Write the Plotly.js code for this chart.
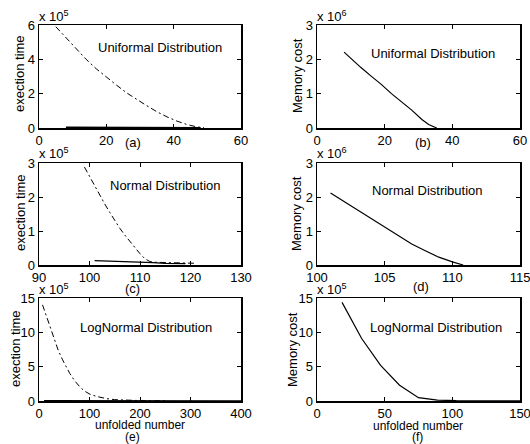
<!DOCTYPE html>
<html>
<head>
<meta charset="utf-8">
<script src="https://cdn.plot.ly/plotly-3.0.1.min.js"></script>
<style>html,body{margin:0;padding:0;background:#fff;}#chart{width:530px;height:444px;}</style>
</head>
<body>
<div id="chart"></div>
<script>
// ---- data (y values in units of the panel's exponent, e.g. x10^5) ----
// (a) Uniformal Distribution, exection time (x10^5)
const aDashX = [5, 8, 11, 14, 17, 20, 23, 26, 29, 32, 35, 38, 41, 44, 47, 49];
const aDashY = [5.9, 5.25, 4.6, 4.0, 3.45, 2.95, 2.5, 2.05, 1.65, 1.3, 0.95, 0.65, 0.4, 0.2, 0.06, 0.02];
const aSolidX = [8, 15, 20, 25, 30, 35, 40, 45, 48];
const aSolidY = [0.04, 0.035, 0.03, 0.03, 0.03, 0.025, 0.025, 0.02, 0.02];
// (b) Uniformal Distribution, Memory cost (x10^6)
const bX = [8, 10, 13, 16, 19, 22, 25, 28, 31, 33, 35.4];
const bY = [2.21, 2.02, 1.76, 1.51, 1.27, 1.0, 0.76, 0.52, 0.25, 0.1, 0.0];
// (c) Normal Distribution, exection time (x10^5)
const cDashX = [99, 100, 101, 102, 103, 104, 105, 106, 107, 108, 109, 110, 111, 112, 113, 115, 117, 119, 121];
const cDashY = [2.88, 2.6, 2.35, 2.05, 1.8, 1.55, 1.3, 1.08, 0.88, 0.7, 0.5, 0.33, 0.18, 0.1, 0.08, 0.07, 0.06, 0.06, 0.05];
const cSolidX = [101, 104, 107, 110, 112.6, 115, 117, 119];
const cSolidY = [0.13, 0.12, 0.1, 0.09, 0.07, 0.05, 0.04, 0.04];
// (d) Normal Distribution, Memory cost (x10^6)
const dX = [101, 102, 103, 104, 105, 106, 107, 108, 109, 110, 110.8];
const dY = [2.12, 1.87, 1.62, 1.37, 1.1, 0.85, 0.62, 0.42, 0.23, 0.09, 0.0];
// (e) LogNormal Distribution, exection time (x10^5)
const eDashX = [7, 15, 22, 30, 38, 46, 54, 61, 70, 81, 90, 101, 115, 134, 150, 174, 200, 225, 250];
const eDashY = [14.0, 12.3, 10.8, 9.0, 7.4, 6.1, 5.0, 4.0, 3.0, 2.05, 1.45, 0.98, 0.65, 0.34, 0.2, 0.1, 0.06, 0.04, 0.03];
const eSolidX = [10, 50, 100, 150, 200, 250, 300, 350, 400];
const eSolidY = [0.04, 0.03, 0.03, 0.02, 0.02, 0.02, 0.02, 0.02, 0.02];
// (f) LogNormal Distribution, Memory cost (x10^5)
const fX = [18.5, 33, 47, 61, 75, 89, 103, 117, 131, 145, 150];
const fY = [14.36, 9.1, 5.2, 2.3, 0.49, 0.12, 0.05, 0.04, 0.03, 0.03, 0.03];

// tick values
const xTicksA = [0, 20, 40, 60];
const xTicksC = [90, 100, 110, 120, 130];
const xTicksD = [100, 105, 110, 115];
const xTicksE = [0, 100, 200, 300, 400];
const xTicksF = [0, 50, 100, 150];
const yTicks6 = [0, 2, 4, 6];
const yTicks3 = [0, 1, 2, 3];
const yTicks15 = [0, 5, 10, 15];

// ---- layout helpers ----
const W = 530, H = 444;
const px = v => v / W;
const py = v => 1 - v / H;
const FONT = 'Liberation Sans, Arial, Helvetica, sans-serif';
const FS = 13;
const colL = [px(39), px(241)], colR = [px(317), px(520)];
const row1 = [py(128), py(25)], row2 = [py(265), py(163)], row3 = [py(401), py(298)];

function ax(domain, range, tickvals, extra) {
  return Object.assign({
    domain: domain, range: range, tickvals: tickvals,
    showline: true, mirror: 'ticks', linecolor: '#000', linewidth: 1.5,
    ticks: 'inside', ticklen: 4, tickwidth: 1, tickcolor: '#000',
    showgrid: false, zeroline: false, fixedrange: true, ticklabeloverflow: 'allow',
    tickfont: {family: FONT, size: FS, color: '#000'}
  }, extra || {});
}

const dashStyle = {color: '#000', width: 1, dash: '6px,3px,2px,3px'};
const solidStyle = {color: '#000', width: 1.2};
function tr(x, y, xa, ya, line) {
  return {x: x, y: y, xaxis: xa, yaxis: ya, type: 'scatter', mode: 'lines', line: line, hoverinfo: 'skip', showlegend: false};
}

const data = [
  tr(aDashX, aDashY, 'x', 'y', dashStyle),
  tr(aSolidX, aSolidY, 'x', 'y', {color: '#000', width: 1.4}),
  tr(bX, bY, 'x2', 'y2', solidStyle),
  tr(cDashX, cDashY, 'x3', 'y3', dashStyle),
  tr(cSolidX, cSolidY, 'x3', 'y3', solidStyle),
  tr(dX, dY, 'x4', 'y4', solidStyle),
  tr(eDashX, eDashY, 'x5', 'y5', dashStyle),
  tr(eSolidX, eSolidY, 'x5', 'y5', {color: '#000', width: 1.4}),
  tr(fX, fY, 'x6', 'y6', solidStyle)
];

function ann(text, x, y, opts) {
  return Object.assign({text: text, xref: 'paper', yref: 'paper', x: px(x), y: py(y),
    xanchor: 'center', yanchor: 'middle', showarrow: false,
    font: {family: FONT, size: FS, color: '#000'}}, opts || {});
}
const vert = {textangle: -90};
const small = {font: {family: FONT, size: 12, color: '#000'}};

const annotations = [
  ann('Uniformal Distribution', 160, 47),
  ann('Uniformal Distribution', 433, 53),
  ann('Normal Distribution', 165, 185),
  ann('Normal Distribution', 427, 190),
  ann('LogNormal Distribution', 146, 327),
  ann('LogNormal Distribution', 436, 327),
  // axis titles
  ann('exection time', 20, 74, vert),
  ann('Memory cost', 297, 76, vert),
  ann('exection time', 20, 213, vert),
  ann('Memory cost', 297, 214, vert),
  ann('exection time', 15, 349, vert),
  ann('Memory cost', 292, 350, vert),
  ann('unfolded number', 140, 425, small),
  ann('unfolded number', 418, 426, small),
  // panel labels
  ann('(a)', 133, 143), ann('(b)', 423, 142),
  ann('(c)', 132, 288), ann('(d)', 421, 286),
  ann('(e)', 132, 437, small), ann('(f)', 417, 437, small),
  // exponent labels
  ann('x 10<sup>5</sup>', 37, 16, {xanchor: 'left'}),
  ann('x 10<sup>6</sup>', 315, 16, {xanchor: 'left'}),
  ann('x 10<sup>5</sup>', 37, 153, {xanchor: 'left'}),
  ann('x 10<sup>6</sup>', 315, 153, {xanchor: 'left'}),
  ann('x 10<sup>5</sup>', 37, 289, {xanchor: 'left'}),
  ann('x 10<sup>5</sup>', 315, 289, {xanchor: 'left'})
];

const layout = {
  width: W, height: H, margin: {l: 0, r: 0, t: 0, b: 0},
  paper_bgcolor: '#fff', plot_bgcolor: '#fff', showlegend: false,
  xaxis: ax(colL, [0, 60], xTicksA, {anchor: 'y'}),
  yaxis: ax(row1, [0, 6], yTicks6, {anchor: 'x'}),
  xaxis2: ax(colR, [0, 60], xTicksA, {anchor: 'y2'}),
  yaxis2: ax(row1, [0, 3], yTicks3, {anchor: 'x2'}),
  xaxis3: ax(colL, [90, 130], xTicksC, {anchor: 'y3'}),
  yaxis3: ax(row2, [0, 3], yTicks3, {anchor: 'x3'}),
  xaxis4: ax(colR, [100, 115], xTicksD, {anchor: 'y4'}),
  yaxis4: ax(row2, [0, 3], yTicks3, {anchor: 'x4'}),
  xaxis5: ax(colL, [0, 400], xTicksE, {anchor: 'y5'}),
  yaxis5: ax(row3, [0, 15], yTicks15, {anchor: 'x5'}),
  xaxis6: ax(colR, [0, 150], xTicksF, {anchor: 'y6'}),
  yaxis6: ax(row3, [0, 15], yTicks15, {anchor: 'x6'}),
  annotations: annotations
};

Plotly.newPlot('chart', data, layout, {displayModeBar: false, staticPlot: true});
</script>
</body>
</html>
